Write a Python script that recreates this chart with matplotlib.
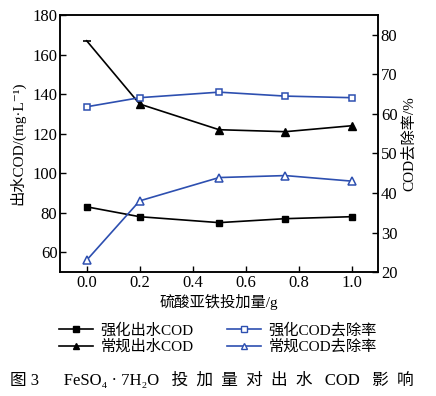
import matplotlib
matplotlib.use("Agg")
import matplotlib.pyplot as plt
from matplotlib.lines import Line2D

plt.rcParams["font.family"] = ["Liberation Serif", "DejaVu Serif", "Noto Sans CJK SC"]

# dose of FeSO4 (g)
dose = [0.0, 0.2, 0.5, 0.75, 1.0]
# effluent COD, mg/L (left axis)
cod_enhanced = [83, 78, 75, 77, 78]
cod_conventional = [167, 135, 122, 121, 124]
# COD removal, % (right axis)
rem_enhanced = [61.8, 64.1, 65.5, 64.5, 64.1]
rem_conventional = [23.0, 38.0, 43.9, 44.4, 43.0]

labels = ["强化出水COD", "常规出水COD", "强化COD去除率", "常规COD去除率"]
blue = "#2d4fb0"

fig = plt.figure(figsize=(4.36, 3.96), dpi=100)
ax = fig.add_axes([0.138, 0.313, 0.729, 0.649])
ax2 = ax.twinx()

ax.plot(dose, cod_enhanced, color="black", lw=1.2, marker="s", ms=5)
ax.plot(dose, cod_conventional, color="black", lw=1.2, marker="^", ms=6, markevery=[1, 2, 3, 4])
ax.plot(dose[:1], cod_conventional[:1], ls="none", color="black", marker="_", ms=6, mew=1.2)
ax2.plot(dose, rem_enhanced, color=blue, lw=1.2, marker="s", ms=5, mfc="white", mew=1.1)
ax2.plot(dose, rem_conventional, color=blue, lw=1.2, marker="^", ms=5.5, mfc="white", mew=1.1)

ax.set_xlim(-0.1, 1.1)
ax.set_ylim(50, 180)
ax2.set_ylim(20, 85)
ax.set_xticks([0.0, 0.2, 0.4, 0.6, 0.8, 1.0])
ax.set_yticks(range(60, 181, 20))
ax2.set_yticks(range(20, 81, 10))

for a in (ax, ax2):
    a.tick_params(direction="in", labelsize=12, length=4, width=1, pad=2)
    for s in a.spines.values():
        s.set_linewidth(1.1)

ax.set_xlabel("硫酸亚铁投加量/g", fontsize=11, labelpad=2)
ax.set_ylabel("出水COD/(mg·L⁻¹)", fontsize=11, labelpad=5)
ax2.set_ylabel("COD去除率/%", fontsize=11, labelpad=3)

handles = [
    Line2D([], [], color="black", lw=1.2, marker="s", ms=4),
    Line2D([], [], color="black", lw=1.2, marker="^", ms=5),
    Line2D([], [], color=blue, lw=1.2, marker="s", ms=4, mfc="white"),
    Line2D([], [], color=blue, lw=1.2, marker="^", ms=4.5, mfc="white"),
]
fig.legend(handles, labels, ncol=2, loc="center", bbox_to_anchor=(0.5, 0.145),
           frameon=False, fontsize=11, handlelength=2.2, handletextpad=0.5,
           columnspacing=2.2, labelspacing=0.15)

fig.text(0.485, 0.04, "图 3      FeSO₄ · 7H₂O   投  加  量  对  出  水   COD   影  响",
         ha="center", va="center", fontsize=12)

fig.savefig("out.png", dpi=100)
